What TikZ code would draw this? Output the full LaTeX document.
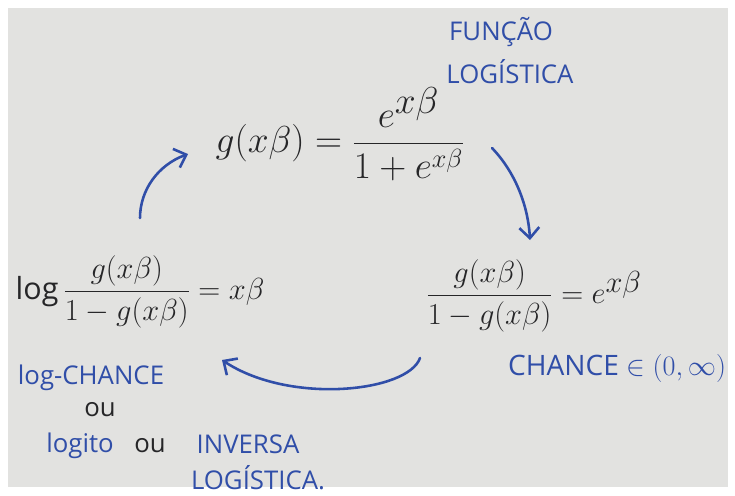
\RequirePackage{fix-cm}
\documentclass[tikz,border=0pt]{standalone}
\usepackage{amsmath}
\usepackage{fontspec}
\setmainfont{Open Sans}
\usepackage{tikz}
\usetikzlibrary{arrows.meta}
\definecolor{BoardGray}{RGB}{226,226,224}
\definecolor{InkBlue}{RGB}{48,78,168}
\definecolor{InkBlack}{RGB}{38,38,40}

\begin{document}
\begin{tikzpicture}[x=0.03cm, y=-0.03cm,
          frm/.style={font=\fontsize{26}{30}\selectfont, text=InkBlack, inner sep=2pt},
          lbl/.style={font=\fontsize{22}{26}\selectfont, text=InkBlue, inner sep=1pt},
          arr/.style={-{Straight Barb[length=9pt, width=17pt]}, draw=InkBlue,
                      line width=2.2pt, line cap=round}
        ]
        \fill[white] (0,0) rectangle (735,495);
        \fill[BoardGray] (8,8) rectangle (728,487);
        \useasboundingbox (0,0) rectangle (735,495);

        % the three formulas
        \node[frm, font=\fontsize{32}{36}\selectfont]
              (logis) at (340,134)
              {$g(x\beta) = \dfrac{e^{\textstyle x\beta}}{1+e^{x\beta}}$};
        \node[frm] (odds)  at (534,296)
              {$\dfrac{g(x\beta)}{1-g(x\beta)} = e^{\textstyle x\beta}$};
        \node[frm] (logit) at (140,292)
              {$\log\dfrac{g(x\beta)}{1-g(x\beta)} = x\beta$};

        % labels
        \node[lbl] (fn1) at (501,32) {FUNÇÃO};
        \node[lbl] (fn2) at (510,72) {LOGÍSTICA};
        \node[lbl, font=\fontsize{24}{28}\selectfont]
              (chance)  at (617,368) {CHANCE $\in(0,\infty)$};
        \node[lbl] (lchance) at (91,378)  {log-CHANCE};
        \node[lbl, text=InkBlack] (ou1) at (100,410) {ou};
        \node[lbl] (lgt)  at (80,446)  {logito};
        \node[lbl, text=InkBlack] (ou2) at (150,446) {ou};
        \node[lbl] (inv)  at (248,444) {INVERSA};
        \node[lbl] (lgs)  at (258,478) {LOGÍSTICA.};

        % arrows round the cycle
        \coordinate (a1s) at (492,148);
        \coordinate (a1e) at (530,240);
        \draw[arr] (a1s) .. controls (515,172) and (528,205) .. (a1e);

        \coordinate (a2s) at (420,358);
        \coordinate (a2e) at (222,360);
        \draw[arr] (a2s) .. controls (408,392) and (290,405) .. (a2e);

        \coordinate (a3s) at (140,218);
        \coordinate (a3e) at (188,154);
        \draw[arr] (a3s) .. controls (140,190) and (158,165) .. (a3e);
      \end{tikzpicture}
\end{document}
